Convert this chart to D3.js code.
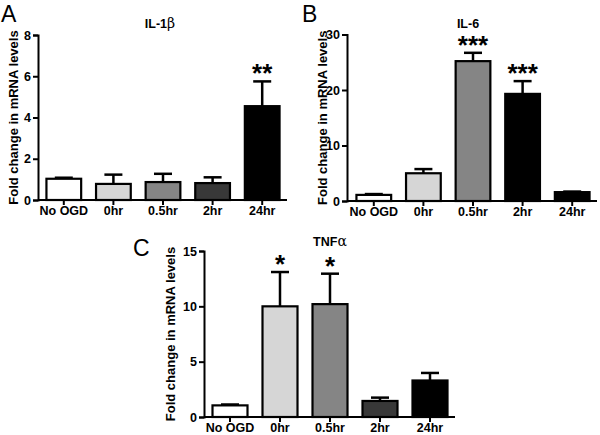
<!DOCTYPE html>
<html>
<head>
<meta charset="utf-8">
<script src="https://cdn.jsdelivr.net/npm/d3@7"></script>
<style>
  html, body { margin: 0; padding: 0; background: #fff; }
  svg { display: block; }
  text { font-family: "Liberation Sans", Arial, sans-serif; }
</style>
</head>
<body>
<svg id="chart" width="600" height="435"></svg>
<script>
// ---- data ----
const categories = ["No OGD", "0hr", "0.5hr", "2hr", "24hr"];

const il1bMean = [1.03, 0.78, 0.87, 0.82, 4.55];
const il1bErr  = [0.05, 0.45, 0.40, 0.28, 1.20];
const il1bStars = ["", "", "", "", "**"];
const il1bTicks = [0, 2, 4, 6, 8];

const il6Mean = [1.1, 5.0, 25.2, 19.3, 1.6];
const il6Err  = [0.15, 0.75, 1.5, 2.3, 0.1];
const il6Stars = ["", "", "***", "***", ""];
const il6Ticks = [0, 10, 20, 30];

const tnfMean = [1.05, 10.0, 10.2, 1.45, 3.3];
const tnfErr  = [0.08, 3.1, 2.75, 0.3, 0.68];
const tnfStars = ["", "*", "*", "", ""];
const tnfTicks = [0, 5, 10, 15];

const colorsA = ["#ffffff", "#d6d6d6", "#858585", "#383838", "#000000"];
const colorsB = ["#ffffff", "#d6d6d6", "#858585", "#000000", "#000000"];
const colorsC = ["#ffffff", "#d6d6d6", "#858585", "#383838", "#000000"];

const svg = d3.select("#chart");

function panel(cfg) {
  const g = svg.append("g");
  const y = d3.scaleLinear().domain([0, cfg.ymax]).range([cfg.y0, cfg.y1]);
  const x = d3.scaleBand().domain(categories).range([cfg.bx0, cfg.bx1]).paddingInner(0.3).paddingOuter(0.15);

  // panel letter
  g.append("text").attr("x", cfg.lx).attr("y", cfg.ly)
    .attr("font-size", 23).attr("fill", "#000").text(cfg.letter);

  // title
  const t = g.append("text").attr("x", cfg.tx).attr("y", cfg.ty)
    .attr("text-anchor", "middle").attr("font-size", 12.5).attr("font-weight", "bold");
  t.append("tspan").text(cfg.title[0]);
  if (cfg.title[1]) t.append("tspan").attr("font-weight", "normal")
    .attr("font-family", "'DejaVu Serif', serif").attr("font-size", 14).text(cfg.title[1]);

  // y label
  g.append("text")
    .attr("transform", `translate(${cfg.ylx},${(cfg.y0 + cfg.y1) / 2}) rotate(-90)`)
    .attr("text-anchor", "middle").attr("font-size", 13).attr("font-weight", "bold")
    .text("Fold change in mRNA levels");

  // bars
  g.selectAll("rect.bar").data(cfg.mean).enter().append("rect")
    .attr("x", (d, i) => x(categories[i]))
    .attr("y", d => y(d))
    .attr("width", x.bandwidth())
    .attr("height", d => y(0) - y(d))
    .attr("fill", (d, i) => cfg.colors[i])
    .attr("stroke", "#000").attr("stroke-width", 2.2);

  // error bars
  const cap = 9;
  cfg.mean.forEach((m, i) => {
    const cx = x(categories[i]) + x.bandwidth() / 2;
    const top = y(m + cfg.err[i]);
    g.append("line").attr("x1", cx).attr("x2", cx).attr("y1", y(m)).attr("y2", top)
      .attr("stroke", "#000").attr("stroke-width", 2.5);
    g.append("line").attr("x1", cx - cap).attr("x2", cx + cap).attr("y1", top).attr("y2", top)
      .attr("stroke", "#000").attr("stroke-width", 2.5);
    if (cfg.stars[i]) {
      g.append("text").attr("x", cx).attr("y", top + 1)
        .attr("text-anchor", "middle").attr("font-size", 26).attr("font-weight", "bold")
        .text(cfg.stars[i]);
    }
  });

  // axes
  const ya = g.append("g").attr("transform", `translate(${cfg.ax},0)`)
    .call(d3.axisLeft(y).tickValues(cfg.ticks).tickSizeOuter(0).tickSize(5).tickPadding(2));
  const xa = g.append("g").attr("transform", `translate(0,${cfg.y0})`)
    .call(d3.axisBottom(x).tickSizeOuter(0).tickSize(5).tickPadding(1.5));
  [ya, xa].forEach(a => {
    a.select(".domain").attr("stroke", "#000").attr("stroke-width", 2);
    a.selectAll(".tick line").attr("stroke", "#000").attr("stroke-width", 2);
    a.selectAll(".tick text").attr("font-family", "'Liberation Sans', Arial, sans-serif")
      .attr("font-size", 12.5).attr("font-weight", "bold").attr("fill", "#000");
  });
  // extend x domain line to the y axis
  xa.select(".domain").attr("d", `M${cfg.ax},0H${cfg.bx1}`);
}

panel({ letter: "A", lx: 1, ly: 22, title: ["IL-1", "β"], tx: 160, ty: 28, ylx: 18,
  mean: il1bMean, err: il1bErr, stars: il1bStars, ticks: il1bTicks, colors: colorsA,
  ymax: 8, y0: 200, y1: 35, ax: 38, bx0: 39, bx1: 287 });

panel({ letter: "B", lx: 302, ly: 22, title: ["IL-6"], tx: 468, ty: 28, ylx: 327,
  mean: il6Mean, err: il6Err, stars: il6Stars, ticks: il6Ticks, colors: colorsB,
  ymax: 30, y0: 201, y1: 34.5, ax: 347, bx0: 349, bx1: 597 });

panel({ letter: "C", lx: 133, ly: 256, title: ["TNF", "α"], tx: 330, ty: 246, ylx: 175,
  mean: tnfMean, err: tnfErr, stars: tnfStars, ticks: tnfTicks, colors: colorsC,
  ymax: 15, y0: 417, y1: 251, ax: 204, bx0: 205, bx1: 455 });
</script>
</body>
</html>
